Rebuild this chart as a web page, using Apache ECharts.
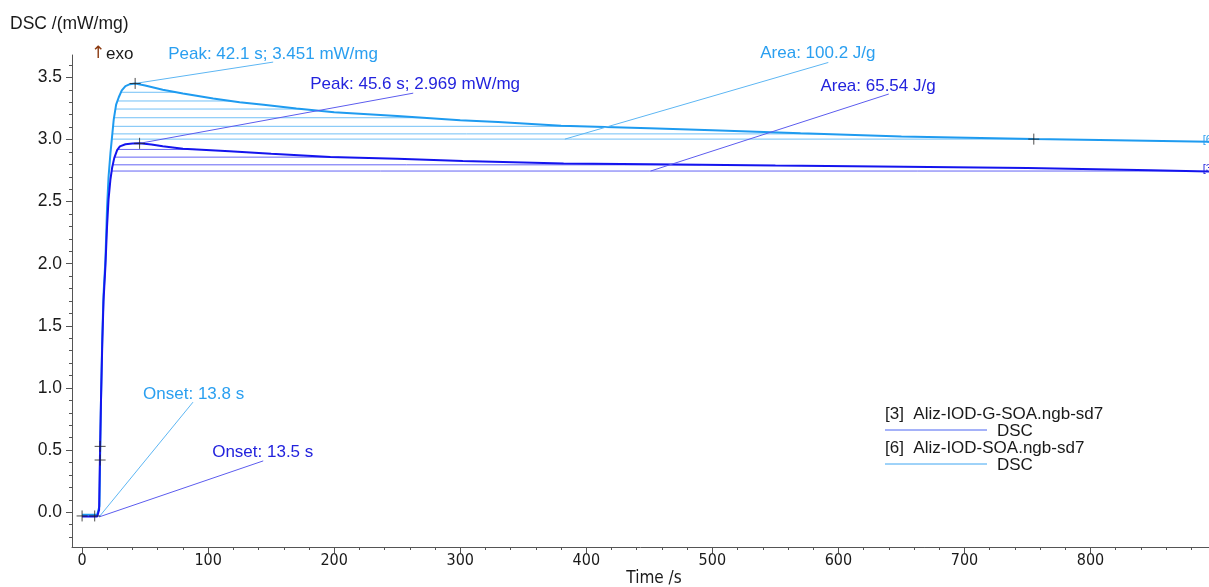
<!DOCTYPE html>
<html><head><meta charset="utf-8">
<script src="https://cdn.jsdelivr.net/npm/echarts@6/dist/echarts.min.js"></script>
<style>html,body{margin:0;padding:0;background:#fff}#c{width:1209px;height:587px}</style>
</head><body><div id="c"></div>
<script>
// ---- data ----
// [6] Aliz-IOD-SOA.ngb-sd7 (light blue)
const timeLight = [0, 5, 10, 12, 13, 13.8, 14.3, 15, 16, 17, 18.5, 19.8, 21, 22.5, 25.1, 27, 29.1, 31.5, 34.4, 38, 42.1, 50, 64, 80, 104, 125, 144, 170, 200, 250, 300, 330, 380, 450, 500, 570, 650, 755, 820, 895];
const dscLight  = [-0.02, -0.02, -0.02, -0.02, -0.015, 0.05, 0.45, 0.9, 1.4, 1.75, 2.03, 2.45, 2.7, 2.89, 3.16, 3.28, 3.34, 3.395, 3.43, 3.445, 3.451, 3.435, 3.40, 3.37, 3.33, 3.30, 3.28, 3.25, 3.22, 3.19, 3.155, 3.14, 3.11, 3.09, 3.075, 3.05, 3.025, 3.003, 2.993, 2.982];
// [3] Aliz-IOD-G-SOA.ngb-sd7 (dark blue)
const timeDark = [0, 5, 10, 12, 13, 13.5, 14.3, 15, 16, 17, 18.5, 19.8, 21, 22.5, 23.8, 25.5, 27.8, 30, 34.4, 40, 45.6, 55, 64, 80, 117, 150, 197, 250, 302, 382, 451, 550, 652, 750, 848, 895];
const dscDark  = [-0.035, -0.035, -0.035, -0.035, -0.03, 0.02, 0.52, 0.9, 1.35, 1.7, 1.98, 2.3, 2.52, 2.68, 2.77, 2.85, 2.915, 2.945, 2.962, 2.967, 2.969, 2.96, 2.945, 2.925, 2.906, 2.885, 2.86, 2.845, 2.826, 2.807, 2.80, 2.79, 2.78, 2.77, 2.752, 2.742];
// hatch levels of the integrated areas (lowest one = integration baseline)
const hatchLight = [3.38, 3.31, 3.245, 3.175, 3.106, 3.045, 3.003];
const hatchDark  = [2.92, 2.858, 2.796, 2.746];
// axis ticks
const xMajorTicks = [0, 100, 200, 300, 400, 500, 600, 700, 800];
const xMinorTicks = [0,20,40,60,80,100,120,140,160,180,200,220,240,260,280,300,320,340,360,380,400,420,440,460,480,500,520,540,560,580,600,620,640,660,680,700,720,740,760,780,800,820,840,860,880];
const yMajorTicks = [0, 0.5, 1.0, 1.5, 2.0, 2.5, 3.0, 3.5];
const yMinorTicks = [-0.2,-0.1,0,0.1,0.2,0.3,0.4,0.5,0.6,0.7,0.8,0.9,1.0,1.1,1.2,1.3,1.4,1.5,1.6,1.7,1.8,1.9,2.0,2.1,2.2,2.3,2.4,2.5,2.6,2.7,2.8,2.9,3.0,3.1,3.2,3.3,3.4,3.5,3.6];
// characteristic points (+ markers)
const crossMarks = [[0, -0.03], [10, -0.03], [14.3, 0.53], [14.3, 0.42], [42.1, 3.451], [45.6, 2.969], [755, 3.003]];
// annotations: text anchor, leader line from/to (data coords)
const annotations = [
  {text: 'Peak: 42.1 s; 3.451 mW/mg', at: [68.3, 3.688], from: [42.1, 3.451], to: [151.6, 3.623], tone: 'light'},
  {text: 'Peak: 45.6 s; 2.969 mW/mg', at: [181, 3.446], from: [45.6, 2.969], to: [262.7, 3.373], tone: 'dark'},
  {text: 'Area: 100.2 J/g', at: [538, 3.696], from: [383, 3.003], to: [592, 3.62], tone: 'light'},
  {text: 'Area: 65.54 J/g', at: [585.7, 3.43], from: [451, 2.746], to: [640, 3.366], tone: 'dark'},
  {text: 'Onset: 13.8 s', at: [48.4, 0.95], from: [13.5, -0.038], to: [88, 0.886], tone: 'light'},
  {text: 'Onset: 13.5 s', at: [103.2, 0.483], from: [13.5, -0.038], to: [143.7, 0.413], tone: 'dark'}
];
const endTags = [{text: '[6]', at: [889, 3.0], tone: 'light'}, {text: '[3]', at: [889, 2.765], tone: 'dark'}];

// ---- styles ----
const C = {
  light: '#1E9BF0', lightHatch: '#72C0F6', lightText: '#2A9FF0', lightLeader: '#5DB6F3',
  dark: '#1414EE', darkHatch: '#6464F4', darkText: '#2323DD', darkLeader: '#5C5CEE'
};
const FONT = '"Liberation Sans", Arial, "DejaVu Sans", sans-serif';
const NARROW = '"Liberation Sans Narrow", "DejaVu Sans Condensed", "Liberation Sans", sans-serif';

function zip(t, v) { return t.map((x, i) => [x, v[i]]); }
function crossings(t, v, level) {
  let pk = 0;
  for (let i = 1; i < v.length; i++) if (v[i] > v[pk]) pk = i;
  let a = null, b = null;
  for (let i = 0; i < pk; i++) {
    if (v[i] < level && v[i + 1] >= level) { a = t[i] + (level - v[i]) / (v[i + 1] - v[i]) * (t[i + 1] - t[i]); break; }
  }
  for (let i = pk; i < v.length - 1; i++) {
    if (v[i] > level && v[i + 1] <= level) { b = t[i] + (v[i] - level) / (v[i] - v[i + 1]) * (t[i + 1] - t[i]); break; }
  }
  if (b === null) b = t[t.length - 1];
  return [a, b];
}
function hatchSeries(t, v, levels, color) {
  const data = [];
  levels.forEach(l => { const [a, b] = crossings(t, v, l); data.push([a, l], [b, l], null); });
  return {type: 'line', data: data, connectNulls: false, showSymbol: false, symbol: 'none', silent: true,
    lineStyle: {color: color, width: 1}, z: 2, animation: false};
}

const chart = echarts.init(document.getElementById('c'), null, {renderer: 'canvas'});
const axisColor = '#555';
chart.setOption({
  animation: false,
  grid: {left: 72, right: 0, top: 55, bottom: 40, containLabel: false},
  xAxis: [
    {type: 'value', min: -8, max: 894, position: 'bottom',
      axisLine: {show: true, onZero: false, lineStyle: {color: axisColor, width: 1}},
      axisTick: {show: true, customValues: xMajorTicks, length: 6, lineStyle: {color: axisColor}},
      axisLabel: {customValues: xMajorTicks, color: '#1a1a1a', fontSize: 16, fontFamily: NARROW, margin: 6},
      splitLine: {show: false}},
    {type: 'value', min: -8, max: 894, position: 'bottom',
      axisLine: {show: false, onZero: false}, axisLabel: {show: false}, splitLine: {show: false},
      axisTick: {show: true, customValues: xMinorTicks, length: 3, lineStyle: {color: axisColor}}}
  ],
  yAxis: [
    {type: 'value', min: -0.28, max: 3.68, position: 'left',
      axisLine: {show: true, onZero: false, lineStyle: {color: axisColor, width: 1}},
      axisTick: {show: true, customValues: yMajorTicks, length: 6, lineStyle: {color: axisColor}},
      axisLabel: {customValues: yMajorTicks, color: '#1a1a1a', fontSize: 17.5, fontFamily: FONT, margin: 10,
        formatter: v => v.toFixed(1)},
      splitLine: {show: false}},
    {type: 'value', min: -0.28, max: 3.68, position: 'left',
      axisLine: {show: false, onZero: false}, axisLabel: {show: false}, splitLine: {show: false},
      axisTick: {show: true, customValues: yMinorTicks, length: 3, lineStyle: {color: axisColor}}}
  ],
  series: [
    hatchSeries(timeLight, dscLight, hatchLight, C.lightHatch),
    hatchSeries(timeDark, dscDark, hatchDark, C.darkHatch),
    {name: '[6] Aliz-IOD-SOA.ngb-sd7', type: 'line', data: zip(timeLight, dscLight), showSymbol: false, symbol: 'none',
      lineStyle: {color: C.light, width: 2}, z: 3},
    {name: '[3] Aliz-IOD-G-SOA.ngb-sd7', type: 'line', data: zip(timeDark, dscDark), showSymbol: false, symbol: 'none',
      lineStyle: {color: C.dark, width: 2}, z: 4},
    {type: 'scatter', data: crossMarks, symbol: 'path://M0,5L10,5M5,0L5,10', symbolSize: 11,
      itemStyle: {color: 'rgba(0,0,0,0)', borderColor: '#222', borderWidth: 1}, z: 6, silent: true}
  ]
});

function px(p) { return chart.convertToPixel({xAxisIndex: 0, yAxisIndex: 0}, p); }
const g = [];
annotations.forEach(a => {
  const col = a.tone === 'light' ? C.lightText : C.darkText;
  const lc = a.tone === 'light' ? C.lightLeader : C.darkLeader;
  const f = px(a.from), t = px(a.to), at = px(a.at);
  g.push({type: 'line', silent: true, z: 5, shape: {x1: f[0], y1: f[1], x2: t[0], y2: t[1]}, style: {stroke: lc, lineWidth: 1}});
  g.push({type: 'text', silent: true, z: 7, x: at[0], y: at[1],
    style: {text: a.text, fill: col, fontSize: 17, fontFamily: FONT, verticalAlign: 'middle', align: 'left'}});
});
endTags.forEach(a => {
  const at = px(a.at);
  g.push({type: 'text', silent: true, z: 7, x: at[0], y: at[1],
    style: {text: a.text, fill: a.tone === 'light' ? C.lightText : C.darkText, fontSize: 11, fontFamily: FONT, verticalAlign: 'middle', align: 'left'}});
});
// titles
g.push({type: 'text', silent: true, x: 10, y: 24, style: {text: 'DSC /(mW/mg)', fill: '#1a1a1a', fontSize: 17.5, fontFamily: FONT, verticalAlign: 'middle'}});
g.push({type: 'text', silent: true, x: 91, y: 54, style: {text: '\u2191', fill: '#8B3A10', fontSize: 17, fontFamily: '"DejaVu Sans", sans-serif', verticalAlign: 'middle'}});
g.push({type: 'text', silent: true, x: 106, y: 54, style: {text: 'exo', fill: '#1a1a1a', fontSize: 17, fontFamily: FONT, verticalAlign: 'middle'}});
g.push({type: 'text', silent: true, x: 654, y: 579, style: {text: 'Time /s', fill: '#1a1a1a', fontSize: 17, fontFamily: NARROW, verticalAlign: 'middle', align: 'center'}});
// legend
const legendItems = [
  {label: '[3]  Aliz-IOD-G-SOA.ngb-sd7', color: '#4A64F2', y: 414},
  {label: '[6]  Aliz-IOD-SOA.ngb-sd7', color: '#3EA6F2', y: 448}
];
legendItems.forEach(it => {
  g.push({type: 'text', silent: true, x: 885, y: it.y, style: {text: it.label, fill: '#1a1a1a', fontSize: 17, fontFamily: FONT, verticalAlign: 'middle'}});
  g.push({type: 'line', silent: true, shape: {x1: 885, y1: it.y + 16, x2: 987, y2: it.y + 16}, style: {stroke: it.color, lineWidth: 1}});
  g.push({type: 'text', silent: true, x: 997, y: it.y + 17, style: {text: 'DSC', fill: '#1a1a1a', fontSize: 17, fontFamily: FONT, verticalAlign: 'middle'}});
});
chart.setOption({graphic: g});
</script>
</body></html>
